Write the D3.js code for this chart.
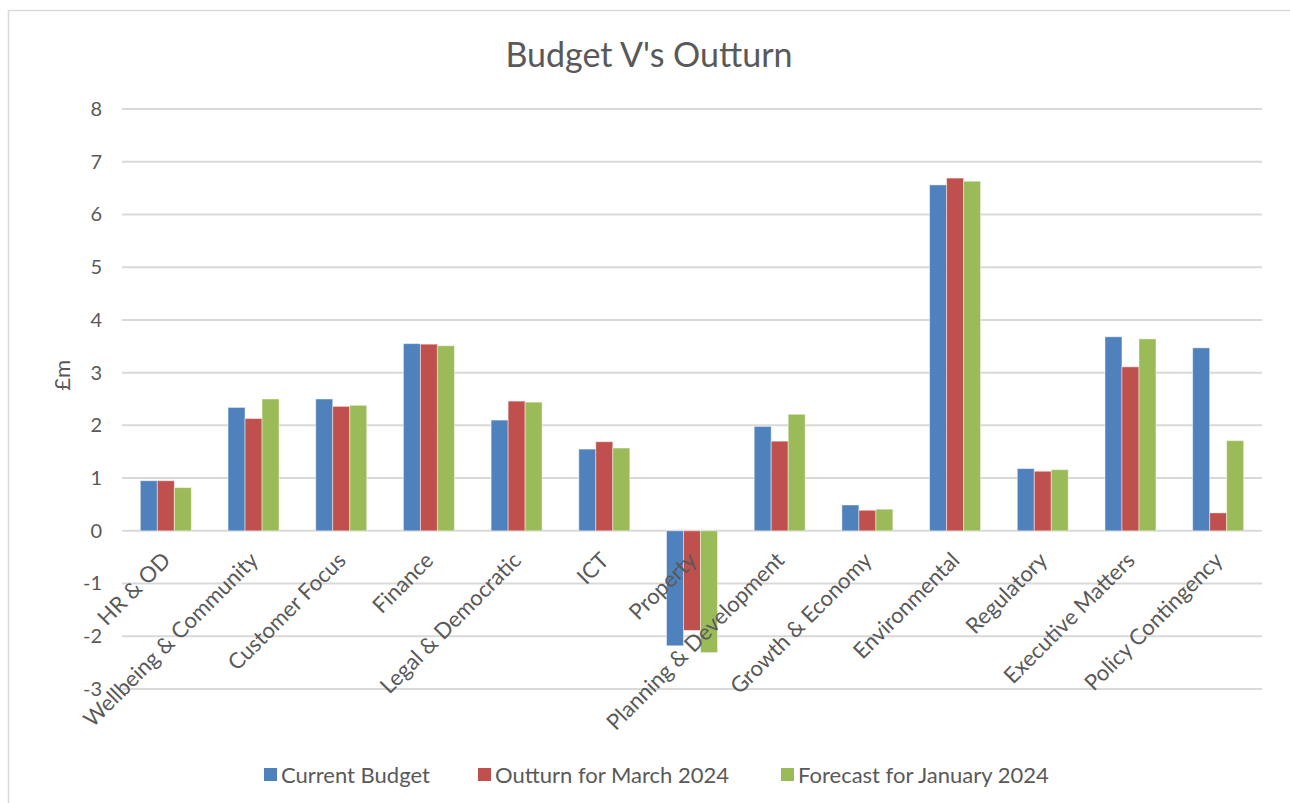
<!DOCTYPE html>
<html>
<head>
<meta charset="utf-8">
<script src="https://cdn.jsdelivr.net/npm/d3@7"></script>
<style>
  body { margin: 0; background: #fff; }
  text { font-family: Lato, "Open Sans", sans-serif; fill: #595959; }
</style>
</head>
<body>
<div id="chart"></div>
<script>
const width = 1290;
const height = 803;

const categories = ["HR & OD", "Wellbeing & Community", "Customer Focus", "Finance",
  "Legal & Democratic", "ICT", "Property", "Planning & Development", "Growth & Economy",
  "Environmental", "Regulatory", "Executive Matters", "Policy Contingency"];
const seriesNames = ["Current Budget", "Outturn for March 2024", "Forecast for January 2024"];
const currentBudget = [0.95, 2.34, 2.50, 3.55, 2.10, 1.55, -2.18, 1.98, 0.49, 6.56, 1.18, 3.68, 3.47];
const outturnMarch = [0.95, 2.13, 2.36, 3.54, 2.46, 1.69, -1.89, 1.70, 0.39, 6.69, 1.13, 3.11, 0.34];
const forecastJan = [0.82, 2.50, 2.38, 3.51, 2.44, 1.57, -2.31, 2.21, 0.41, 6.63, 1.16, 3.64, 1.71];
const yTicks = [-3, -2, -1, 0, 1, 2, 3, 4, 5, 6, 7, 8];
const colors = ["#4F81BD", "#C0504D", "#9BBB59"];

const seriesValues = [currentBudget, outturnMarch, forecastJan];
const margin = { left: 122, right: 28, top: 109, bottom: 114 };

const svg = d3.select("#chart")
    .append("svg")
    .attr("width", width)
    .attr("height", height);

// chart frame
svg.append("rect")
    .attr("x", 8.5).attr("y", 10.5)
    .attr("width", 1310).attr("height", 830)
    .attr("fill", "#fff")
    .attr("stroke", "#D9D9D9")
    .attr("stroke-width", 1.5);

svg.append("text")
    .attr("x", 649)
    .attr("y", 67)
    .attr("text-anchor", "middle")
    .style("font-size", "34px")
    .text("Budget V's Outturn");

const x = d3.scaleBand()
    .domain(categories)
    .range([margin.left, width - margin.right]);

const x1 = d3.scaleBand()
    .domain(d3.range(3))
    .range([0, x.bandwidth()])
    .paddingInner(0)
    .paddingOuter(1.08);

const y = d3.scaleLinear()
    .domain([-3, 8])
    .range([height - margin.bottom, margin.top]);

// gridlines
svg.append("g")
    .selectAll("line")
    .data(yTicks)
    .enter()
    .append("line")
    .attr("x1", margin.left)
    .attr("x2", width - margin.right)
    .attr("y1", d => y(d))
    .attr("y2", d => y(d))
    .attr("stroke", "#D9D9D9")
    .attr("stroke-width", 2);

// y axis labels
const yAxis = svg.append("g")
    .attr("transform", `translate(${margin.left - 20},0)`)
    .call(d3.axisLeft(y).tickValues(yTicks).tickSize(0).tickPadding(0).tickFormat(d => String(d)));
yAxis.select(".domain").remove();
yAxis.selectAll("text")
    .style("font-size", "20px")
    .style("font-family", "Lato, 'Open Sans', sans-serif")
    .attr("fill", "#595959");

svg.append("text")
    .attr("transform", `translate(70,${y(2.95)}) rotate(-90)`)
    .attr("text-anchor", "middle")
    .style("font-size", "22px")
    .text("£m");

// bars
const groups = svg.append("g")
    .selectAll("g")
    .data(seriesValues)
    .enter()
    .append("g")
    .attr("fill", (d, i) => colors[i]);

groups.each(function (vals, s) {
    d3.select(this).selectAll("rect")
        .data(vals)
        .enter()
        .append("rect")
        .attr("x", (d, i) => x(categories[i]) + x1(s))
        .attr("width", x1.bandwidth())
        .attr("y", d => Math.min(y(d), y(0)))
        .attr("height", d => Math.abs(y(d) - y(0)))
        .attr("stroke", "rgba(255,255,255,0.45)")
        .attr("stroke-width", 1);
});

// category labels, rotated
svg.append("g")
    .selectAll("text")
    .data(categories)
    .enter()
    .append("text")
    .attr("transform", d => `translate(${x(d) + x.bandwidth() / 2 - 5},${y(0) + 20}) rotate(-45)`)
    .attr("text-anchor", "end")
    .attr("dy", "0.7em")
    .style("font-size", "22px")
    .text(d => d);

// legend
const legendX = [264, 478, 781];
const legend = svg.append("g")
    .selectAll("g")
    .data(seriesNames)
    .enter()
    .append("g")
    .attr("transform", (d, i) => `translate(${legendX[i]},767)`);

legend.append("rect")
    .attr("width", 13)
    .attr("height", 13)
    .attr("y", 1)
    .attr("fill", (d, i) => colors[i]);

legend.append("text")
    .attr("x", 17)
    .attr("y", 8)
    .attr("dy", "0.35em")
    .style("font-size", "22px")
    .text(d => d);
</script>
</body>
</html>
